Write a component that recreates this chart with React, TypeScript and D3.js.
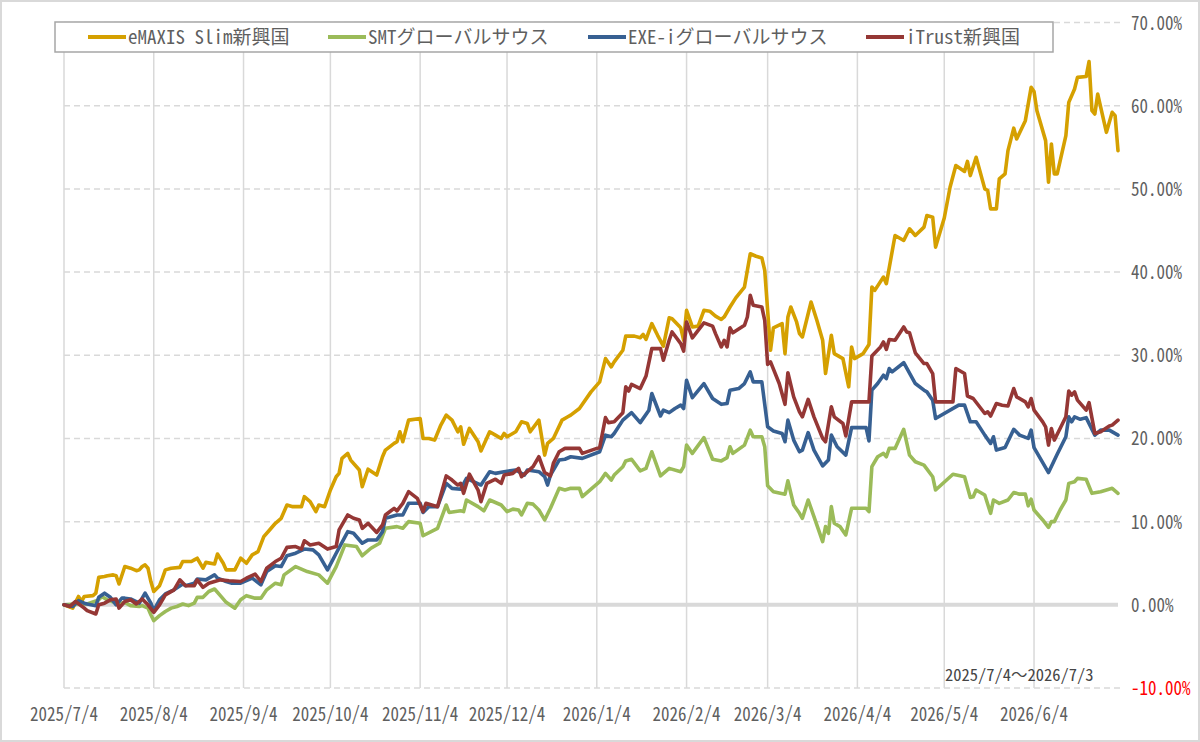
import React from "react";
import * as d3 from "d3";

// ---- data (day offsets are days since 2025/7/4, values in %) ----
const startLabel = "2025/7/4";
const endLabel = "2026/7/3";
const rangeLabel = "2025/7/4〜2026/7/3";

const tickLabels = [
  "2025/7/4", "2025/8/4", "2025/9/4", "2025/10/4", "2025/11/4", "2025/12/4",
  "2026/1/4", "2026/2/4", "2026/3/4", "2026/4/4", "2026/5/4", "2026/6/4",
];
const yTicks = [70, 60, 50, 40, 30, 20, 10, 0, -10];

const seriesNames = ["eMAXIS Slim新興国", "SMTグローバルサウス", "EXE-iグローバルサウス", "iTrust新興国"];
const seriesColors = ["#D5A000", "#9BBB59", "#376092", "#953735"];

const emaxis: [number, number][] = [
  [0,0],[3,-0.4],[5,1.0],[6,0.4],[7,1.0],[10,1.1],[11,1.4],[12,3.3],[14,3.4],[15,3.5],[17,3.6],[18,3.5],[19,2.5],[21,4.6],[23,4.4],[25,4.1],[26,4.2],[27,4.6],[28,4.8],[29,4.4],[30,2.8],[31,1.6],[33,2.3],[34,3.2],[35,4.2],[37,4.4],[40,4.5],[41,5.2],[44,5.2],[45,5.4],[46,5.6],[48,4.4],[49,5.1],[52,4.9],[53,6.1],[55,5.0],[56,4.2],[59,4.2],
  [61,5.6],[63,5.0],[65,6.0],[67,6.4],[69,8.2],[71,9.0],[73,9.8],[75,10.4],[77,12.0],[79,11.8],[82,11.8],[83,13.0],[85,12.4],[87,11.2],[88,12.0],[90,11.8],[92,13.8],[94,15.4],[95,15.8],[96,17.6],[98,18.2],[99,17.4],[102,16.2],[103,14.2],[105,16.3],[108,15.6],[110,17.8],[111,18.6],[114,19.4],[115,19.6],[116,20.8],[117,19.6],[119,22.2],[123,22.4],[124,20.0],[126,20.0],[128,19.8],
  [130,21.5],[132,22.8],[134,22.2],[136,20.8],[137,21.4],[138,19.3],[140,21.2],[143,19.6],[144,18.5],[147,20.8],[149,20.4],[151,20.0],[152,20.6],[153,20.2],[156,20.8],[158,22.0],[160,21.8],[161,20.8],[164,22.2],[166,18.0],[167,19.4],[169,20.0],[172,22.2],[174,22.6],[175,22.8],[178,23.6],[182,25.6],[185,26.8],[187,29.6],[189,28.6],
  [190,29.2],[193,30.6],[194,32.3],[197,32.3],[199,32.1],[200,32.5],[201,31.9],[203,33.8],[205,32.4],[207,31.1],[209,34.5],[210,34.4],[213,33.3],[214,31.8],[215,35.4],[217,33.4],[219,33.5],[221,35.4],[223,35.3],[225,34.7],[227,34.3],[228,34.6],[230,35.8],[232,36.9],[235,38.2],[237,42.2],[239,41.9],[241,41.7],[242,40.2],[244,30.6],[245,33.3],[248,33.8],[249,30.2],[250,34.6],[251,35.8],[253,34.0],
  [254,32.6],[255,32.2],[258,36.4],[260,34.2],[262,31.8],[263,27.8],[265,32.4],[266,30.2],[269,29.6],[271,26.2],[272,31.0],[273,29.6],[276,30.2],[278,31.3],[279,38.2],[280,37.8],[283,39.4],[284,38.6],[287,44.4],[290,43.8],[292,45.2],[294,44.4],[297,45.4],[298,46.8],[300,46.6],[301,43.0],[304,46.5],
  [306,50.2],[308,52.8],[311,52.1],[312,53.3],[313,51.6],[315,53.8],[318,50.0],[319,49.8],[320,47.6],[322,47.6],[323,51.2],[325,51.8],
  [326,54.6],[328,57.3],[329,56.0],[332,58.2],[334,62.2],[335,61.7],[336,59.4],[339,55.8],[340,50.8],[341,55.4],[342,51.8],[343,51.8],[346,56.4],[347,60.4],[349,62.0],[350,63.4],[353,63.5],[354,65.3],[355,59.4],[356,59.0],[357,61.4],[360,56.8],[362,59.2],[363,58.8],[364,54.6],
];

const smt: [number, number][] = [
  [0,0],[4,0.1],[8,0.1],[12,0.6],[13,1.0],[15,0.6],[19,0.1],[21,0.3],[23,-0.1],[26,-0.2],[27,-0.1],[29,-0.4],[30,-1.2],[31,-1.9],[33,-1.3],[35,-0.8],[37,-0.4],[39,-0.2],[41,0.1],[43,-0.1],[45,0.2],[46,0.9],[48,0.9],[50,1.6],[52,1.9],[54,1.1],[56,0.3],[59,-0.4],
  [61,0.6],[63,1.1],[66,0.8],[68,0.8],[70,1.8],[73,2.6],[75,2.4],[76,3.6],[80,4.6],[84,4.0],[88,3.6],[91,2.6],[94,4.6],[97,7.2],[101,7.0],[103,5.9],[106,6.8],[109,7.4],[111,9.2],[115,9.4],[117,9.2],[119,10.0],[123,9.8],[124,8.3],
  [129,9.2],[132,12.0],[133,11.1],[137,11.3],[138,11.2],[139,12.6],[143,11.8],[145,11.3],[147,12.6],[151,12.0],[153,11.2],[155,11.5],[157,11.4],[158,10.8],[160,12.2],[162,12.1],[164,11.4],[166,10.2],[168,11.6],[171,14.0],[173,13.8],[175,14.0],[178,14.0],[179,13.0],[185,14.8],[187,15.8],[189,15.0],
  [190,15.6],[193,16.6],[194,17.3],[196,17.5],[199,16.1],[201,16.4],[203,18.4],[206,15.5],[209,16.4],[213,16.0],[214,16.6],[215,19.2],[217,18.2],[221,20.1],[224,17.5],[227,17.3],[229,17.7],[230,19.0],[231,18.2],[235,19.2],[237,21.0],[238,20.2],[241,20.2],[242,19.0],[243,14.3],[245,13.6],[249,13.3],[250,14.9],[252,12.0],
  [254,11.0],[255,10.4],[257,12.6],[259,10.6],[262,7.6],[263,9.4],[264,8.6],[265,11.8],[266,9.8],[268,9.4],[270,8.4],[272,11.6],[277,11.6],[278,11.2],[279,16.6],[281,17.8],[283,18.2],[284,17.8],[285,18.8],[287,18.8],[290,21.1],[292,18.0],[294,17.2],[297,16.8],[300,15.4],[301,13.8],[307,15.7],[311,15.4],[313,12.9],[314,13.0],[315,13.8],
  [318,13.2],[320,11.0],[321,12.6],[323,12.2],[326,12.6],[328,13.5],[330,13.3],[332,13.3],[333,11.9],[334,12.7],[335,11.4],[338,10.2],[340,9.3],[341,10.0],[342,10.0],[344,11.4],[346,12.6],[347,14.6],[349,14.8],[350,15.2],[353,15.1],[355,13.4],[358,13.6],[362,14.0],[364,13.4],
];

const exei: [number, number][] = [
  [0,0],[3,-0.2],[5,0.5],[7,0.2],[8,0.1],[11,-0.1],[12,0.9],[14,1.4],[16,0.9],[18,0.0],[20,0.8],[21,0.8],[23,0.7],[26,0.2],[28,1.4],[30,0.2],[31,-0.7],[33,0.6],[35,1.3],[38,1.8],[41,2.5],[42,2.3],[45,2.6],[46,3.1],[49,3.0],[52,3.6],[53,3.2],[56,2.8],[58,2.6],
  [61,2.6],[65,3.2],[68,2.4],[70,4.0],[73,4.7],[75,4.6],[77,5.9],[80,6.2],[83,6.7],[86,6.6],[88,6.0],[91,4.2],[94,6.2],[98,8.8],[100,8.6],[103,7.4],[105,7.8],[108,7.8],[110,8.8],[111,10.4],[115,10.8],[117,10.8],[119,12.2],[123,12.2],[124,11.1],
  [126,11.8],[129,11.8],[132,14.6],[134,14.0],[137,13.9],[139,15.2],[144,14.4],[147,16.0],[149,15.8],[152,16.0],[156,16.2],[159,15.6],[160,16.2],[164,16.0],[166,15.4],[167,14.4],[168,15.6],[171,17.4],[173,17.5],[175,17.8],[179,17.6],[185,18.4],[187,20.4],[189,20.2],
  [190,20.6],[193,22.2],[196,23.1],[199,21.9],[202,23.4],[203,25.4],[206,22.7],[207,23.4],[209,23.1],[211,23.6],[213,24.0],[214,23.6],[215,27.0],[217,24.9],[221,26.6],[224,24.8],[227,24.1],[229,24.2],[230,25.8],[233,26.0],[235,26.6],[237,28.0],[238,26.8],[241,26.8],[243,21.4],[245,20.9],[248,20.6],[249,19.6],[250,22.2],[252,19.8],
  [254,18.4],[255,18.6],[257,20.7],[259,18.6],[262,16.7],[264,17.4],[265,20.4],[267,19.0],[270,18.0],[272,21.3],[277,21.3],[278,19.7],[279,25.8],[281,26.6],[283,27.6],[284,27.2],[285,28.4],[286,28.0],[290,29.1],[294,26.6],[297,25.8],[298,25.6],[300,24.6],[301,22.4],[309,24.0],[311,24.0],[313,22.0],[315,22.0],
  [318,20.4],[320,19.4],[321,20.2],[322,18.6],[325,18.9],[328,21.1],[330,20.4],[333,20.0],[334,21.0],[335,18.9],[340,15.9],[343,18.1],[346,20.2],[347,22.6],[348,22.0],[349,22.6],[351,22.3],[353,22.5],[356,20.4],[358,21.0],[361,21.0],[364,20.4],
];

const itrust: [number, number][] = [
  [0,0],[2,-0.2],[4,0.4],[7,-0.4],[8,-0.7],[11,-1.1],[12,0.0],[14,0.2],[16,0.6],[18,0.7],[19,-0.4],[21,0.4],[23,0.6],[25,0.1],[27,0.7],[29,0.0],[31,-0.9],[33,0.0],[35,1.2],[38,1.8],[40,3.0],[42,2.3],[45,2.3],[46,3.0],[48,2.1],[50,2.6],[52,2.8],[54,3.0],[57,2.9],
  [61,2.8],[63,3.2],[66,3.7],[68,2.8],[70,4.4],[73,5.2],[75,5.6],[77,6.9],[80,7.0],[82,6.7],[83,7.7],[85,7.2],[88,7.4],[91,6.7],[94,7.0],[95,9.0],[98,10.8],[100,10.4],[102,10.2],[103,9.2],[105,9.8],[108,8.7],[110,9.6],[111,10.8],[114,11.6],[115,11.3],[117,12.2],[119,13.6],[122,12.8],[124,11.2],[125,12.2],
  [129,11.8],[132,15.5],[134,15.0],[136,14.4],[137,14.6],[138,13.4],[140,15.7],[143,13.8],[144,12.4],[146,14.6],[149,15.1],[151,14.6],[152,15.6],[155,15.8],[157,16.4],[158,15.4],[160,16.0],[162,16.6],[164,17.8],[166,15.9],[168,15.5],[169,17.0],[171,18.4],[173,18.8],[178,18.8],[179,18.2],[184,18.8],[185,18.9],[187,22.5],[188,21.9],
  [190,22.0],[193,23.1],[194,26.2],[195,25.7],[196,26.5],[199,26.0],[201,27.5],[203,30.8],[206,30.8],[207,29.4],[209,31.8],[210,32.8],[213,31.4],[214,30.5],[215,34.0],[217,32.1],[219,33.0],[221,33.9],[224,33.5],[225,32.6],[227,31.0],[228,31.8],[229,31.0],[230,33.3],[231,32.7],[235,33.6],[236,34.6],[237,37.2],[238,36.0],[241,35.8],[242,34.2],[243,28.9],[244,29.2],[247,26.6],[249,24.1],[250,27.9],[252,25.0],
  [254,23.2],[255,22.6],[257,24.7],[259,22.6],[262,20.0],[263,19.6],[265,23.8],[266,22.6],[269,21.8],[270,20.3],[272,24.4],[278,24.4],[279,29.9],[282,31.0],[283,31.6],[284,30.7],[285,31.9],[287,31.8],[290,33.4],[291,32.8],[292,32.7],[294,30.3],[297,29.0],[298,29.0],[300,27.8],[301,24.4],[307,24.4],[308,28.4],[311,27.8],[312,25.1],[314,24.8],
  [318,23.0],[319,23.2],[320,22.7],[322,24.2],[324,24.0],[326,23.9],[328,26.0],[329,25.0],[332,24.4],[333,23.8],[334,24.8],[335,23.4],[338,22.0],[339,21.4],[340,19.2],[341,21.2],[342,19.8],[344,21.2],[346,22.6],[347,25.7],[348,25.2],[349,25.6],[350,24.6],[353,23.4],[354,24.3],[356,20.6],[358,20.8],[361,21.5],[362,21.6],[364,22.2],
];

const seriesData = [emaxis, smt, exei, itrust];

// ---- helpers ----
const parseDate = (s: string) => {
  const [y, m, d] = s.split("/").map(Number);
  return new Date(y, m - 1, d);
};
const startDate = parseDate(startLabel);
const endDate = parseDate(endLabel);

const W = 1200;
const H = 742;
const FONT = "'Noto Sans Mono CJK JP','Noto Sans CJK JP','DejaVu Sans Mono',monospace";
const GRID = "#D9D9D9";
const TEXT = "#5F5F5F";

export default function App() {
  const x = d3.scaleTime().domain([startDate, endDate]).range([64, 1118]);
  const y = d3.scaleLinear().domain([-10, 70]).range([688, 22.5]);

  const line = d3
    .line<[number, number]>()
    .x((d) => x(d3.timeDay.offset(startDate, d[0])))
    .y((d) => y(d[1]));

  const legendX = [88, 328, 588, 866];

  return (
    <div style={{ position: "fixed", left: 0, top: 0, width: W, height: H, background: "#fff" }}>
      <svg width={W} height={H} style={{ display: "block" }}>
        <rect x={1} y={1} width={W - 2} height={H - 2} fill="#fff" stroke={GRID} strokeWidth={2} />

        {/* vertical grid */}
        {tickLabels.map((t) => {
          const xx = x(parseDate(t));
          return <line key={"v" + t} x1={xx} x2={xx} y1={y(70)} y2={y(-10)} stroke={GRID} strokeWidth={1.5} />;
        })}

        {/* horizontal grid */}
        {yTicks.filter((v) => v !== 0).map((v) => (
          <line key={"h" + v} x1={64} x2={1120} y1={y(v)} y2={y(v)} stroke={GRID} strokeWidth={1.5} strokeDasharray="6 4" />
        ))}
        <line x1={64} x2={1118} y1={y(0)} y2={y(0)} stroke={GRID} strokeWidth={4} />

        {/* series */}
        {seriesData.map((s, i) => (
          <path key={"s" + i} d={line(s) || ""} fill="none" stroke={seriesColors[i]} strokeWidth={3.6} strokeLinejoin="round" strokeLinecap="round" />
        ))}

        {/* x labels */}
        {tickLabels.map((t) => {
          const xx = x(parseDate(t));
          return (
            <text key={"xl" + t} transform={`translate(${xx},721) scale(1,1.15)`} textAnchor="middle" fontFamily={FONT} fontSize={17} fill={TEXT}>
              {t}
            </text>
          );
        })}

        {/* y labels */}
        {yTicks.map((v) => (
          <text key={"yl" + v} transform={`translate(1131,${y(v) + 7}) scale(1,1.15)`} textAnchor="start" fontFamily={FONT} fontSize={17} fill={v < 0 ? "#FF0000" : TEXT}>
            {v.toFixed(2) + "%"}
          </text>
        ))}

        {/* range note */}
        <text x={945} y={681} fontFamily={FONT} fontSize={16.5} fill="#454545">
          {rangeLabel}
        </text>

        {/* legend */}
        <rect x={55} y={22} width={998} height={30} fill="#fff" stroke="#A6A6A6" strokeWidth={1.5} />
        {seriesNames.map((n, i) => (
          <g key={"lg" + i}>
            <line x1={legendX[i]} x2={legendX[i] + 38} y1={37} y2={37} stroke={seriesColors[i]} strokeWidth={4} />
            <text x={legendX[i] + 40} y={44} fontFamily={FONT} fontSize={19} fill={TEXT}>
              {n}
            </text>
          </g>
        ))}
      </svg>
    </div>
  );
}
